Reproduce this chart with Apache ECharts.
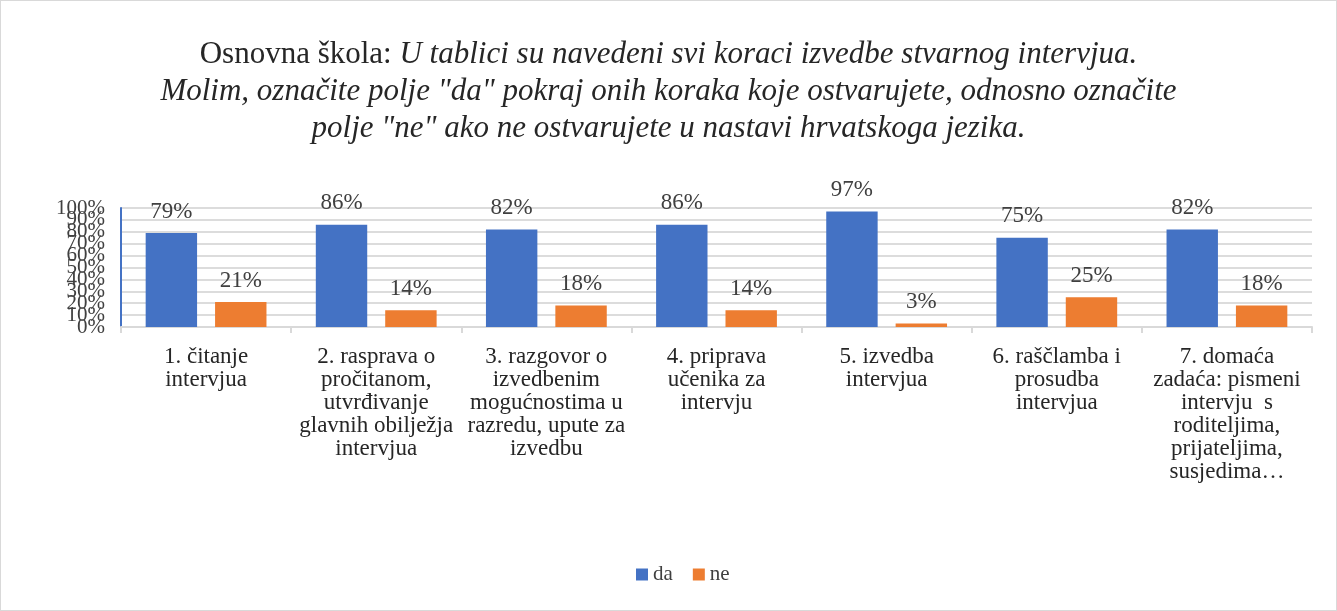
<!DOCTYPE html>
<html>
<head>
<meta charset="utf-8">
<script src="https://cdn.jsdelivr.net/npm/echarts@6/dist/echarts.min.js"></script>
<style>
  html, body { margin: 0; padding: 0; background: #fff; }
  #chart { width: 1337px; height: 611px; box-sizing: border-box; border: 1px solid #d9d9d9; }
</style>
</head>
<body>
<div id="chart"></div>
<script>
// koraci izvedbe intervjua
const categories = [
  '1. čitanje\nintervjua',
  '2. rasprava o\npročitanom,\nutvrđivanje\nglavnih obilježja\nintervjua',
  '3. razgovor o\nizvedbenim\nmogućnostima u\nrazredu, upute za\nizvedbu',
  '4. priprava\nučenika za\nintervju',
  '5. izvedba\nintervjua',
  '6. raščlamba i\nprosudba\nintervjua',
  '7. domaća\nzadaća: pismeni\nintervju  s\nroditeljima,\nprijateljima,\nsusjedima…'
]
const daValues = [79, 86, 82, 86, 97, 75, 82]
const neValues = [21, 14, 18, 14, 3, 25, 18]
// oznake y osi (svaki drugi postotak na jednoj osi da se ne sakriju)
const yTicksEven = [0, 20, 40, 60, 80, 100]
const yTicksOdd = [10, 30, 50, 70, 90]

const serif = '"Liberation Serif", "DejaVu Serif", serif'

const chart = echarts.init(document.getElementById('chart'))

const labelStyle = {
  show: true,
  position: 'top',
  distance: 10,
  formatter: '{c}%',
  fontFamily: serif,
  fontSize: 23,
  color: '#404040'
}

function yAxisWith(ticks, visible) {
  return {
    type: 'value',
    position: 'left',
    min: 0,
    max: 100,
    interval: 10,
    axisLine: { show: visible, lineStyle: { color: '#4472C4', width: 2 } },
    axisTick: { show: false },
    axisLabel: {
      formatter: v => (ticks.indexOf(v) >= 0 ? v + '%' : ''),
      fontFamily: serif,
      fontSize: 21,
      color: '#404040',
      margin: 16,
      showMinLabel: true,
      showMaxLabel: true
    },
    splitLine: { show: visible, lineStyle: { color: '#dcdcdc', width: 2 } }
  }
}

chart.setOption({
  animation: false,
  title: {
    left: 'center',
    top: 30,
    text: '{n|Osnovna škola: }{i|U tablici su navedeni svi koraci izvedbe stvarnog intervjua.}\n{i|Molim, označite polje "da" pokraj onih koraka koje ostvarujete, odnosno označite}\n{i|polje "ne" ako ne ostvarujete u nastavi hrvatskoga jezika.}',
    textStyle: {
      fontWeight: 'normal',
      align: 'center',
      rich: {
        n: { fontFamily: serif, fontSize: 31, fontWeight: 'normal', color: '#262626', lineHeight: 37, align: 'center' },
        i: { fontFamily: serif, fontSize: 31, fontWeight: 'normal', fontStyle: 'italic', color: '#262626', lineHeight: 37, align: 'center' }
      }
    }
  },
  legend: {
    bottom: 20,
    left: 630,
    itemWidth: 12,
    itemHeight: 12,
    itemGap: 20,
    icon: 'rect',
    textStyle: { fontFamily: serif, fontSize: 21, color: '#404040' },
    data: ['da', 'ne']
  },
  grid: {
    left: 120,
    right: 24,
    top: 207,
    bottom: 283,
    containLabel: false
  },
  xAxis: {
    type: 'category',
    data: categories,
    axisLine: { lineStyle: { color: '#d9d9d9', width: 2 } },
    axisTick: { show: true, length: 6, lineStyle: { color: '#d9d9d9', width: 2 } },
    axisLabel: {
      interval: 0,
      margin: 18,
      fontFamily: serif,
      fontSize: 23,
      lineHeight: 23,
      color: '#262626'
    }
  },
  yAxis: [yAxisWith(yTicksEven, true), yAxisWith(yTicksOdd, false)],
  series: [
    {
      name: 'da',
      type: 'bar',
      data: daValues,
      barGap: '35%',
      barCategoryGap: '29%',
      itemStyle: { color: '#4472C4' },
      label: labelStyle
    },
    {
      name: 'ne',
      type: 'bar',
      data: neValues,
      itemStyle: { color: '#ED7D31' },
      label: labelStyle
    }
  ]
})
</script>
</body>
</html>
